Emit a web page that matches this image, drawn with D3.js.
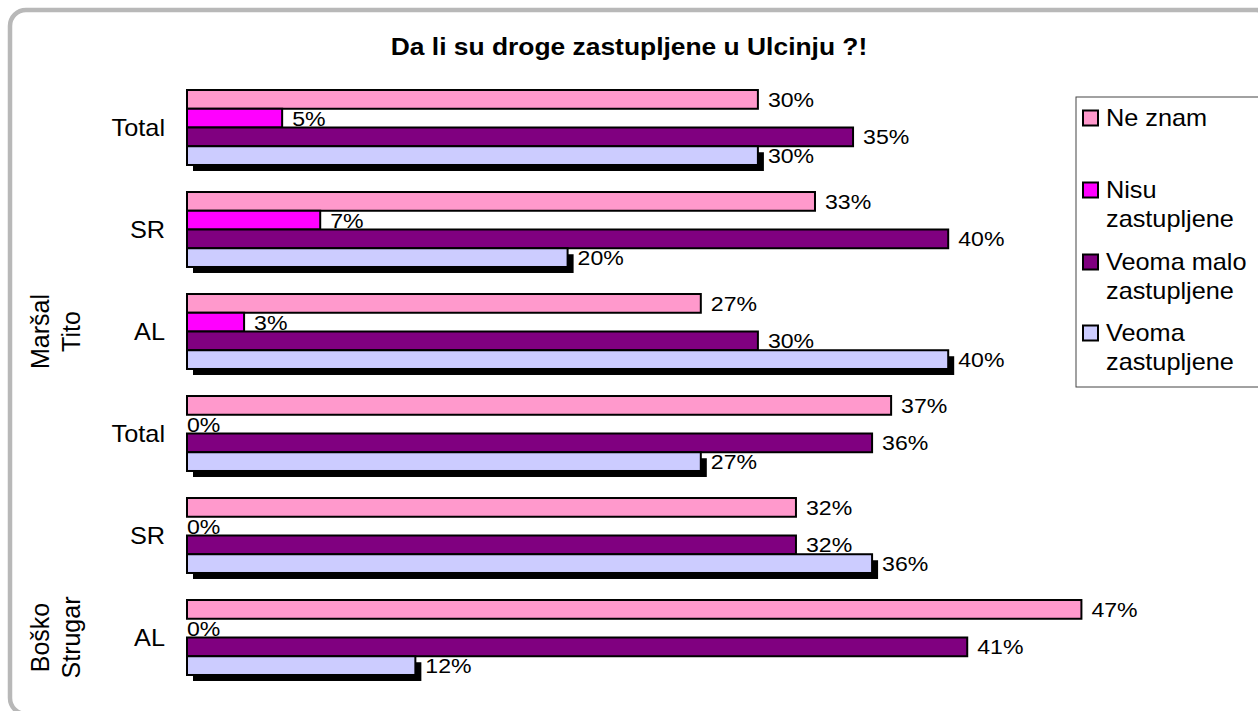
<!DOCTYPE html>
<html>
<head>
<meta charset="utf-8">
<script src="https://cdn.jsdelivr.net/npm/d3@7"></script>
<style>
  html, body { margin: 0; padding: 0; background: #fff; }
  svg { display: block; font-family: "Liberation Sans", Arial, sans-serif; }
</style>
</head>
<body>
<svg id="chart" width="1258" height="711"></svg>
<script>
// categories (top to bottom), with their outer group
const groups = ["Maršal Tito", "Boško Strugar"];
const categories = [
  { group: "Maršal Tito", sub: "Total" },
  { group: "Maršal Tito", sub: "SR" },
  { group: "Maršal Tito", sub: "AL" },
  { group: "Boško Strugar", sub: "Total" },
  { group: "Boško Strugar", sub: "SR" },
  { group: "Boško Strugar", sub: "AL" }
];

// series, in the same order as the categories above (values in %)
const seriesNames = ["Ne znam", "Nisu zastupljene", "Veoma malo zastupljene", "Veoma zastupljene"];
const neZnam = [30, 33, 27, 37, 32, 47];
const nisuZastupljene = [5, 7, 3, 0, 0, 0];
const veomaMalo = [35, 40, 30, 36, 32, 41];
const veomaZastupljene = [30, 20, 40, 27, 36, 12];

// legend text is wrapped like in the original
const legendLines = [["Ne znam"], ["Nisu", "zastupljene"], ["Veoma malo", "zastupljene"], ["Veoma", "zastupljene"]];

const title = "Da li su droge zastupljene u Ulcinju ?!";

const colors = ["#FF99CC", "#FF00FF", "#800080", "#CCCCFF"];
const allValues = [neZnam, nisuZastupljene, veomaMalo, veomaZastupljene];

// the original picture is a bit wider than tall, text looks stretched
const sx = 1.1;

const svg = d3.select("#chart");

function putText(parent, x, y, size) {
  return parent.append("text")
    .attr("transform", `translate(${x},${y}) scale(${sx},1)`)
    .attr("font-size", size + "px")
    .attr("fill", "#000");
}

// outer frame
svg.append("rect")
  .attr("x", 10).attr("y", 10)
  .attr("width", 1262).attr("height", 704)
  .attr("rx", 16).attr("ry", 16)
  .attr("fill", "#fff")
  .attr("stroke", "#b8b8b8")
  .attr("stroke-width", 4.5);

// title
putText(svg, 629, 55, 24)
  .attr("text-anchor", "middle")
  .attr("font-weight", "bold")
  .text(title);

const keys = categories.map((c) => c.group + "|" + c.sub);

// scales
const x = d3.scaleLinear().domain([0, 50]).range([187, 1138.5]);

const y = d3.scaleBand()
  .domain(keys)
  .range([76.5, 688.5])
  .paddingInner(0.265)
  .paddingOuter(0.1325);

const ySub = d3.scaleBand()
  .domain(seriesNames)
  .range([0, y.bandwidth()]);

const plot = svg.append("g");

// bars and labels, series by series so later bars lie over earlier labels
seriesNames.forEach((name, si) => {
  const rows = allValues[si].map((v, i) => ({ key: keys[i], v: v }));
  const g = plot.append("g");

  // the last series has a drop shadow
  if (si === seriesNames.length - 1) {
    g.selectAll(".shadow")
      .data(rows)
      .enter()
      .append("rect")
      .attr("class", "shadow")
      .attr("x", x(0) + 6)
      .attr("y", (d) => y(d.key) + ySub(name) + 6)
      .attr("width", (d) => x(d.v) - x(0))
      .attr("height", ySub.bandwidth())
      .attr("fill", "#000");
  }

  g.selectAll(".bar")
    .data(rows)
    .enter()
    .append("rect")
    .attr("class", "bar")
    .attr("x", x(0))
    .attr("y", (d) => y(d.key) + ySub(name))
    .attr("width", (d) => x(d.v) - x(0))
    .attr("height", ySub.bandwidth())
    .attr("fill", colors[si])
    .attr("stroke", "#000")
    .attr("stroke-width", 2);

  rows.forEach((d) => {
    putText(g, x(d.v) + (d.v > 0 ? 10 : 0), y(d.key) + ySub(name) + ySub.bandwidth() / 2, 21)
      .attr("dy", "0.36em")
      .text(d.v + "%");
  });
});

// category labels
categories.forEach((c, i) => {
  putText(svg, 165, y(keys[i]) + y.bandwidth() / 2, 23)
    .attr("dy", "0.36em")
    .attr("text-anchor", "end")
    .text(c.sub);
});

// outer group labels, rotated, aligned with the AL row of each group
groups.forEach((gName) => {
  const cy = y(gName + "|AL") + y.bandwidth() / 2;
  const words = gName.split(" ");
  const t = svg.append("text")
    .attr("transform", `translate(40,${cy}) rotate(-90)`)
    .attr("text-anchor", "middle")
    .attr("font-size", "25px");
  words.forEach((w, i) => {
    t.append("tspan")
      .attr("x", 0)
      .attr("y", i * 31)
      .attr("dy", "0.36em")
      .text(w);
  });
});

// legend
const legend = svg.append("g");
legend.append("rect")
  .attr("x", 1076).attr("y", 97)
  .attr("width", 200).attr("height", 290)
  .attr("fill", "#fff")
  .attr("stroke", "#444")
  .attr("stroke-width", 1);

const legendMid = [118, 190, 262, 333];
seriesNames.forEach((name, i) => {
  legend.append("rect")
    .attr("x", 1083)
    .attr("y", legendMid[i] - 7.5)
    .attr("width", 15).attr("height", 15)
    .attr("fill", colors[i])
    .attr("stroke", "#000")
    .attr("stroke-width", 2);
  legendLines[i].forEach((line, j) => {
    putText(legend, 1106, legendMid[i] + j * 28.5, 23)
      .attr("dy", "0.36em")
      .text(line);
  });
});
</script>
</body>
</html>
